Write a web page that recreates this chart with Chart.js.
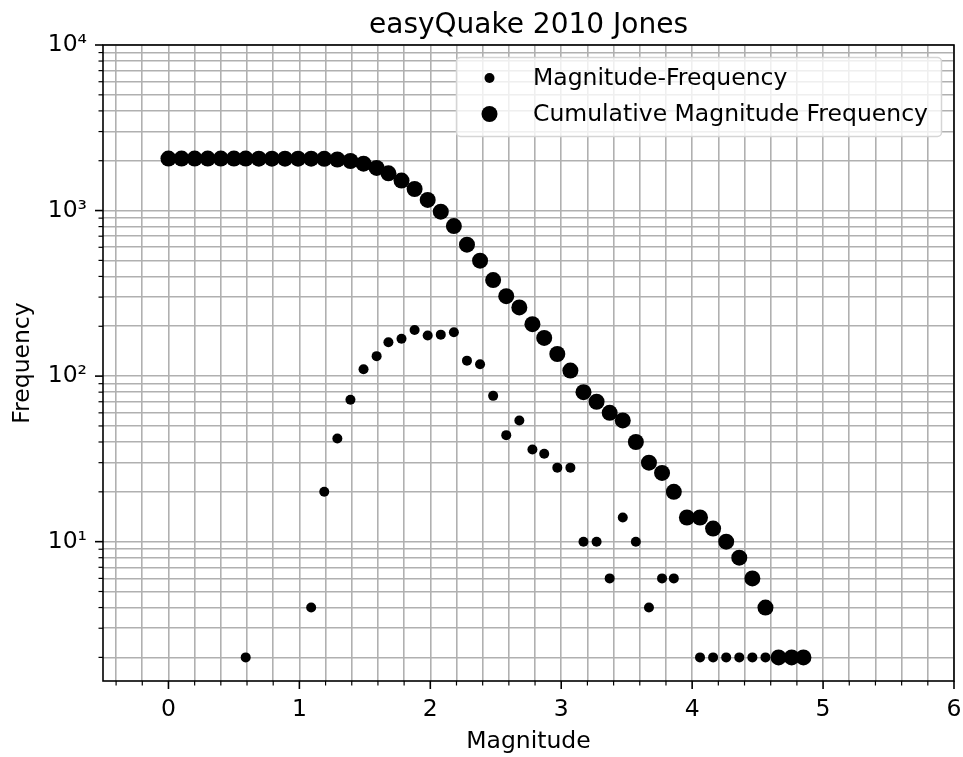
<!DOCTYPE html>
<html>
<head>
<meta charset="utf-8">
<script src="https://cdn.jsdelivr.net/npm/chart.js@4.4.1/dist/chart.umd.min.js"></script>
<style>
  html, body { margin: 0; padding: 0; background: #fff; overflow: hidden; }
  canvas { display: block; }
</style>
</head>
<body>
<canvas id="myChart" width="963" height="757"></canvas>
<script>
// magnitude bins (x)
const mags = [
  0.00, 0.10, 0.20, 0.30, 0.40, 0.50, 0.59, 0.69, 0.79, 0.89,
  0.99, 1.09, 1.19, 1.29, 1.39, 1.49, 1.59, 1.68, 1.78, 1.88,
  1.98, 2.08, 2.18, 2.28, 2.38, 2.48, 2.58, 2.68, 2.78, 2.87,
  2.97, 3.07, 3.17, 3.27, 3.37, 3.47, 3.57, 3.67, 3.77, 3.86,
  3.96, 4.06, 4.16, 4.26, 4.36, 4.46, 4.56, 4.66, 4.76, 4.85
];

// magnitude-frequency (null = empty bin, not shown on log axis)
const freq = [
  null, null, null, null, null, null, 2, null, null, null,
  null, 4, 20, 42, 72, 110, 132, 160, 168, 190,
  176, 178, 184, 124, 118, 76, 44, 54, 36, 34,
  28, 28, 10, 10, 6, 14, 10, 4, 6, 6,
  null, 2, 2, 2, 2, 2, 2, null, null, 2
];

// cumulative magnitude frequency
const cumFreq = [
  2060, 2060, 2060, 2060, 2060, 2060, 2060, 2058, 2058, 2058,
  2058, 2058, 2054, 2034, 1992, 1920, 1810, 1678, 1518, 1350,
  1160, 984, 806, 622, 498, 380, 304, 260, 206, 170,
  136, 108, 80, 70, 60, 54, 40, 30, 26, 20,
  14, 14, 12, 10, 8, 6, 4, 2, 2, 2
];

const xMin = -0.5, xMax = 6;
const yMin = 1.44, yMax = 10000;
const xLabels = [0, 1, 2, 3, 4, 5, 6];
const yDecades = [1, 10, 100, 1000];
const yMultipliers = [1, 2, 3, 4, 5, 6, 7, 8, 9];
const yLabels = { 10: '10¹', 100: '10²', 1000: '10³', 10000: '10⁴' };

const FONT = "'DejaVu Sans', sans-serif";

const smallPts = mags.map((m, i) => ({ x: m, y: freq[i] })).filter(p => p.y !== null);
const bigPts = mags.map((m, i) => ({ x: m, y: cumFreq[i] }));

// minor ticks every 0.2 on x, 1..9 x 10^k on y (like matplotlib)
function xTickValues() {
  const out = [];
  for (let k = -2; k <= 30; k++) out.push(Math.round(k * 2) / 10);
  return out.filter(v => v > xMin && v <= xMax);
}
function yTickValues() {
  const out = [];
  yDecades.forEach(d => yMultipliers.forEach(m => out.push(d * m)));
  out.push(yMax);
  return out.filter(v => v >= yMin && v <= yMax);
}
const isWhole = v => Math.abs(v - Math.round(v)) < 1e-9;

const decorations = {
  id: 'decorations',
  afterDraw(chart) {
    const { ctx, chartArea: a, scales: { x, y } } = chart;
    ctx.save();
    ctx.strokeStyle = '#000';
    // tick marks (outside)
    x.ticks.forEach(t => {
      const px = x.getPixelForValue(t.value);
      const major = isWhole(t.value);
      ctx.lineWidth = major ? 1.6 : 1.2;
      ctx.beginPath();
      ctx.moveTo(px, a.bottom);
      ctx.lineTo(px, a.bottom + (major ? 8 : 4.5));
      ctx.stroke();
    });
    y.ticks.forEach(t => {
      const py = y.getPixelForValue(t.value);
      const major = yLabels[t.value] !== undefined;
      ctx.lineWidth = major ? 1.6 : 1.2;
      ctx.beginPath();
      ctx.moveTo(a.left, py);
      ctx.lineTo(a.left - (major ? 8 : 4.5), py);
      ctx.stroke();
    });
    // frame
    ctx.lineWidth = 1.6;
    ctx.strokeRect(a.left, a.top, a.right - a.left, a.bottom - a.top);

    // title
    ctx.fillStyle = '#000';
    ctx.font = '28px ' + FONT;
    ctx.textAlign = 'center';
    ctx.textBaseline = 'alphabetic';
    ctx.fillText('easyQuake 2010 Jones', (a.left + a.right) / 2, 33);

    // legend
    const lx = 456.5, ly = 57.5, lw = 485, lh = 79;
    ctx.beginPath();
    ctx.roundRect(lx, ly, lw, lh, 4);
    ctx.fillStyle = 'rgba(255,255,255,0.8)';
    ctx.fill();
    ctx.strokeStyle = '#d5d5d5';
    ctx.lineWidth = 1.5;
    ctx.stroke();
    const rows = [
      { label: chart.data.datasets[0].label, r: chart.data.datasets[0].pointRadius, y: 78 },
      { label: chart.data.datasets[1].label, r: chart.data.datasets[1].pointRadius, y: 114 }
    ];
    ctx.font = '23.5px ' + FONT;
    ctx.textAlign = 'left';
    ctx.textBaseline = 'middle';
    rows.forEach(row => {
      ctx.fillStyle = '#000';
      ctx.beginPath();
      ctx.arc(489.5, row.y, row.r, 0, Math.PI * 2);
      ctx.fill();
      ctx.fillText(row.label, 533, row.y + 1);
    });
    ctx.restore();
  }
};

const ctx = document.getElementById('myChart').getContext('2d');

new Chart(ctx, {
  type: 'scatter',
  data: {
    datasets: [{
      label: 'Magnitude-Frequency',
      data: smallPts,
      pointRadius: 5,
      pointBorderWidth: 0,
      pointBackgroundColor: '#000',
      order: 2
    }, {
      label: 'Cumulative Magnitude Frequency',
      data: bigPts,
      pointRadius: 8,
      pointBorderWidth: 0,
      pointBackgroundColor: '#000',
      order: 1
    }]
  },
  options: {
    responsive: false,
    animation: false,
    layout: { padding: { top: 45, right: 9, bottom: 0, left: 0 } },
    plugins: {
      legend: { display: false },
      title: { display: false },
      tooltip: { enabled: false }
    },
    scales: {
      x: {
        type: 'linear',
        min: xMin,
        max: xMax,
        afterFit: s => { s.height = 76; s.paddingLeft = 0; s.paddingRight = 0; },
        afterBuildTicks: s => { s.ticks = xTickValues().map(v => ({ value: v })); },
        grid: { color: '#b0b0b0', lineWidth: 1.6, drawTicks: false },
        border: { display: false },
        ticks: {
          autoSkip: false,
          maxRotation: 0,
          padding: 15,
          color: '#000',
          font: { family: FONT, size: 23.5 },
          callback: v => isWhole(v) && xLabels.includes(Math.round(v)) ? String(Math.round(v)) : ''
        },
        title: {
          display: true,
          text: 'Magnitude',
          color: '#000',
          font: { family: FONT, size: 23.5 },
          padding: { top: 0, bottom: 1 }
        }
      },
      y: {
        type: 'logarithmic',
        min: yMin,
        max: yMax,
        afterFit: s => { s.width = 103; s.paddingTop = 0; s.paddingBottom = 0; },
        afterBuildTicks: s => { s.ticks = yTickValues().map(v => ({ value: v })); },
        grid: { color: '#b0b0b0', lineWidth: 1.6, drawTicks: false },
        border: { display: false },
        ticks: {
          autoSkip: false,
          padding: 16,
          color: '#000',
          font: { family: FONT, size: 23.5 },
          callback: v => yLabels[v] !== undefined ? yLabels[v] : ''
        },
        title: {
          display: true,
          text: 'Frequency',
          color: '#000',
          font: { family: FONT, size: 23.5 },
          padding: { top: 9, bottom: 0 }
        }
      }
    }
  },
  plugins: [decorations]
});
</script>
</body>
</html>
